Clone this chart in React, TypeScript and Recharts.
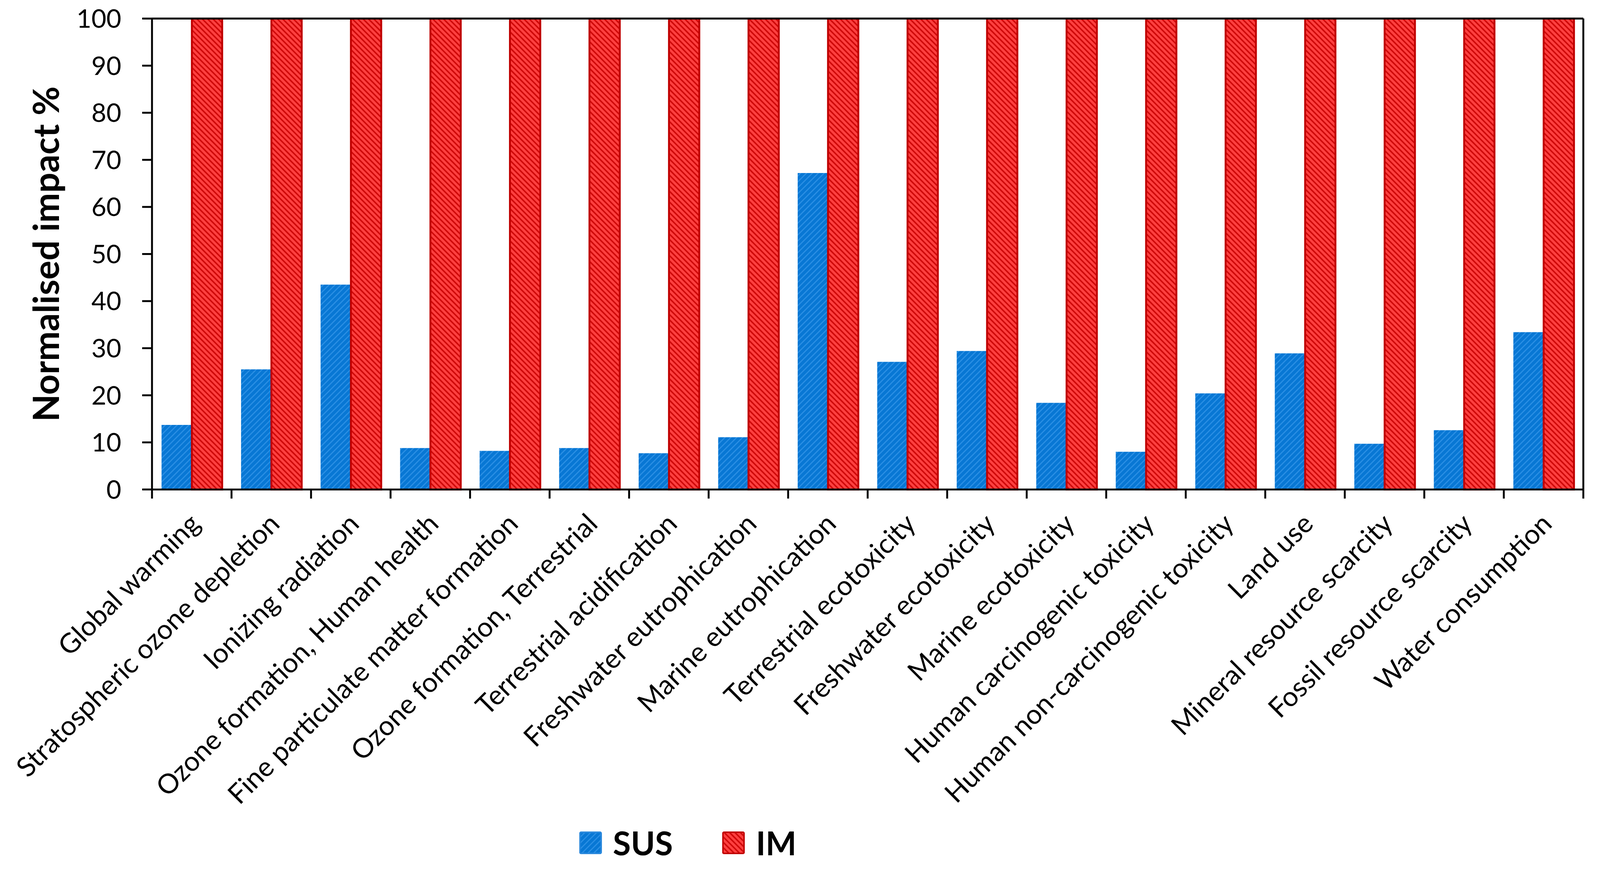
import React from 'react';
import { BarChart, Bar, XAxis, YAxis, Legend } from 'recharts';

const categories = [
  'Global warming',
  'Stratospheric ozone depletion',
  'Ionizing radiation',
  'Ozone formation, Human health',
  'Fine particulate matter formation',
  'Ozone formation, Terrestrial',
  'Terrestrial acidification',
  'Freshwater eutrophication',
  'Marine eutrophication',
  'Terrestrial ecotoxicity',
  'Freshwater ecotoxicity',
  'Marine ecotoxicity',
  'Human carcinogenic toxicity',
  'Human non-carcinogenic toxicity',
  'Land use',
  'Mineral resource scarcity',
  'Fossil resource scarcity',
  'Water consumption',
];

const susValues = [13.7, 25.5, 43.5, 8.8, 8.2, 8.8, 7.7, 11.1, 67.2, 27.1, 29.4, 18.4, 8.0, 20.4, 28.9, 9.7, 12.6, 33.4];
const imValues = [100, 100, 100, 100, 100, 100, 100, 100, 100, 100, 100, 100, 100, 100, 100, 100, 100, 100];
const yTicks = [0, 10, 20, 30, 40, 50, 60, 70, 80, 90, 100];

const data = categories.map((name, i) => ({ name, SUS: susValues[i], IM: imValues[i] }));

const W = 4221;
const H = 2284;
const Y_AXIS_W = 401;
const MARGIN = { top: 48, right: 43, left: 0, bottom: 0 };
const RIGHT_AXIS_W = 1;
const BAND = (W - Y_AXIS_W - MARGIN.right - RIGHT_AXIS_W) / categories.length;

const FONT = 'Lato, "Open Sans", sans-serif';
const AXIS_W = 5;

// category label plus the boundary tick marks (Excel puts ticks between categories)
function CategoryTick({ x, y, payload, index }: any) {
  const px = x + 26;
  const py = y + 95;
  const last = index === categories.length - 1;
  return (
    <g>
      <line x1={x - BAND / 2} x2={x - BAND / 2} y1={y} y2={y + 24} stroke="#000" strokeWidth={AXIS_W} />
      {last && <line x1={x + BAND / 2} x2={x + BAND / 2} y1={y} y2={y + 24} stroke="#000" strokeWidth={AXIS_W} />}
      <text
        x={px}
        y={py}
        transform={`rotate(-45, ${px}, ${py})`}
        textAnchor="end"
        fontFamily={FONT}
        fontSize={72}
        fill="#000"
      >
        {payload.value}
      </text>
    </g>
  );
}

function YTitle({ viewBox }: any) {
  const bx = 156;
  const cy = viewBox.y + viewBox.height / 2;
  return (
    <text
      x={bx}
      y={cy}
      transform={`rotate(-90, ${bx}, ${cy})`}
      textAnchor="middle"
      fontFamily={FONT}
      fontWeight={700}
      fontSize={94}
      fill="#000"
    >
      Normalised impact %
    </text>
  );
}

function LegendBox() {
  const item = (fill: string, stroke: string, label: string, gapAfter: number) => (
    <div style={{ display: 'flex', alignItems: 'center', marginRight: gapAfter }}>
      <svg width={60} height={60} style={{ marginRight: 29, display: 'block' }}>
        <rect x={2} y={2} width={56} height={56} rx={3} fill={fill} stroke={stroke} strokeWidth={4} />
      </svg>
      <span style={{ fontFamily: FONT, fontWeight: 700, fontSize: 86, color: '#000', lineHeight: 1 }}>{label}</span>
    </div>
  );
  return (
    <div style={{ display: 'flex', alignItems: 'center', paddingLeft: 1528, height: 120 }}>
      {item('url(#susHatch)', '#2A88DC', 'SUS', 130)}
      {item('url(#imHatch)', '#C00000', 'IM', 0)}
    </div>
  );
}

export default function App() {
  // fit the 4221x2284 drawing into whatever CSS viewport the page gets
  const k = typeof window !== 'undefined' && window.innerWidth ? Math.min(window.innerWidth / W, 1) : 1;
  return (
    <div
      style={{
        position: 'absolute',
        left: 0,
        top: 0,
        width: W * k,
        height: H * k,
        overflow: 'hidden',
        background: '#fff',
      }}
    >
      <div style={{ width: W, height: H, transform: `scale(${k})`, transformOrigin: '0 0' }}>
        <BarChart width={W} height={H} data={data} margin={MARGIN} barCategoryGap="12%" barGap={0}>
          <defs>
            <pattern id="susHatch" patternUnits="userSpaceOnUse" width={11} height={11} patternTransform="rotate(45)">
              <rect width={11} height={11} fill="#0877D4" />
              <rect width={3} height={11} fill="#2B8FE4" />
            </pattern>
            <pattern id="imHatch" patternUnits="userSpaceOnUse" width={10} height={10} patternTransform="rotate(-45)">
              <rect width={10} height={10} fill="#FF4040" />
              <rect width={4} height={10} fill="#CF0A0A" />
            </pattern>
          </defs>
          <XAxis
            xAxisId="cat"
            dataKey="name"
            interval={0}
            tick={<CategoryTick />}
            tickLine={false}
            tickSize={0}
            tickMargin={0}
            axisLine={{ stroke: '#000', strokeWidth: AXIS_W }}
            height={876}
          />
          <XAxis
            xAxisId="top"
            orientation="top"
            type="number"
            domain={[0, categories.length]}
            allowDataOverflow
            tick={false}
            tickLine={false}
            axisLine={{ stroke: '#000', strokeWidth: AXIS_W }}
            height={1}
          />
          <YAxis
            yAxisId="left"
            domain={[0, 100]}
            ticks={yTicks}
            interval={0}
            width={Y_AXIS_W}
            tickSize={26}
            tickMargin={55}
            tick={{ fontFamily: FONT, fontSize: 68, fill: '#000' }}
            tickLine={{ stroke: '#000', strokeWidth: AXIS_W }}
            axisLine={{ stroke: '#000', strokeWidth: AXIS_W }}
            label={<YTitle />}
          />
          <YAxis
            yAxisId="right"
            orientation="right"
            domain={[0, 100]}
            allowDataOverflow
            tick={false}
            tickLine={false}
            axisLine={{ stroke: '#000', strokeWidth: AXIS_W }}
            width={RIGHT_AXIS_W}
          />
          <Legend verticalAlign="bottom" align="left" height={120} content={<LegendBox />} />
          <Bar xAxisId="cat" yAxisId="left" dataKey="SUS" fill="url(#susHatch)" isAnimationActive={false} />
          <Bar
            xAxisId="cat"
            yAxisId="left"
            dataKey="IM"
            fill="url(#imHatch)"
            stroke="#C00000"
            strokeWidth={5}
            isAnimationActive={false}
          />
        </BarChart>
      </div>
    </div>
  );
}
